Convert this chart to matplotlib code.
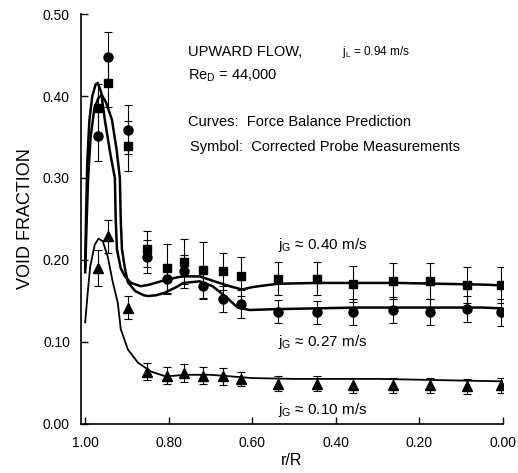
import numpy as np
import matplotlib.pyplot as plt

plt.rcParams['font.family'] = ['Liberation Sans', 'DejaVu Sans']
plt.rcParams['mathtext.fontset'] = 'custom'
plt.rcParams['mathtext.rm'] = 'Liberation Sans'

# measured radial positions (r/R)
r_meas = [0.969, 0.945, 0.898, 0.853, 0.805, 0.764, 0.719, 0.671, 0.628,
          0.539, 0.446, 0.359, 0.263, 0.175, 0.086, 0.004]

# jG = 0.40 m/s (squares)
void_40 = [0.385, 0.416, 0.339, 0.213, 0.190, 0.198, 0.188, 0.186, 0.180,
           0.177, 0.177, 0.171, 0.174, 0.174, 0.169, 0.169]
err_40 = [0.030, 0.030, 0.030, 0.022, 0.030, 0.027, 0.034, 0.022, 0.024,
          0.020, 0.020, 0.022, 0.022, 0.022, 0.022, 0.022]

# jG = 0.27 m/s (circles)
void_27 = [0.351, 0.448, 0.359, 0.204, 0.177, 0.186, 0.168, 0.152, 0.146,
           0.137, 0.136, 0.137, 0.139, 0.137, 0.140, 0.136]
err_27 = [0.030, 0.030, 0.030, 0.020, 0.018, 0.020, 0.016, 0.016, 0.017,
          0.014, 0.014, 0.016, 0.016, 0.016, 0.016, 0.016]

# jG = 0.10 m/s (triangles)
void_10 = [0.190, 0.229, 0.142, 0.064, 0.059, 0.062, 0.059, 0.058, 0.055,
           0.049, 0.049, 0.047, 0.047, 0.047, 0.046, 0.047]
err_10 = [0.022, 0.020, 0.014, 0.010, 0.010, 0.011, 0.010, 0.010, 0.009,
          0.009, 0.009, 0.009, 0.009, 0.009, 0.009, 0.009]

# force balance prediction curves
curve_r_40 = [1.000, 0.998, 0.995, 0.990, 0.983, 0.975, 0.970, 0.962, 0.953,
              0.940, 0.929, 0.927, 0.924, 0.915, 0.905, 0.890, 0.867, 0.846,
              0.826, 0.805, 0.778, 0.766, 0.726, 0.685, 0.654, 0.625, 0.599,
              0.570, 0.539, 0.450, 0.350, 0.250, 0.150, 0.050, 0.000]
curve_40 = [0.190, 0.250, 0.320, 0.370, 0.400, 0.414, 0.416, 0.405, 0.371,
            0.330, 0.300, 0.250, 0.213, 0.190, 0.180, 0.172, 0.168, 0.170,
            0.173, 0.176, 0.179, 0.180, 0.180, 0.173, 0.168, 0.164, 0.167,
            0.169, 0.171, 0.172, 0.172, 0.172, 0.171, 0.170, 0.169]

curve_r_27 = [1.000, 0.997, 0.993, 0.987, 0.978, 0.968, 0.960, 0.950, 0.936,
              0.925, 0.917, 0.915, 0.912, 0.905, 0.898, 0.880, 0.860, 0.850,
              0.830, 0.810, 0.778, 0.766, 0.726, 0.695, 0.661, 0.635, 0.606,
              0.550, 0.450, 0.350, 0.250, 0.150, 0.050, 0.000]
curve_27 = [0.185, 0.240, 0.300, 0.350, 0.385, 0.398, 0.401, 0.392, 0.371,
            0.335, 0.300, 0.250, 0.213, 0.190, 0.173, 0.162, 0.157, 0.156,
            0.157, 0.160, 0.168, 0.172, 0.174, 0.168, 0.154, 0.142, 0.139,
            0.140, 0.141, 0.142, 0.142, 0.142, 0.142, 0.141]

curve_r_10 = [1.000, 0.994, 0.988, 0.977, 0.968, 0.958, 0.946, 0.934, 0.922,
              0.915, 0.898, 0.874, 0.843, 0.807, 0.760, 0.700, 0.650, 0.600,
              0.500, 0.400, 0.300, 0.200, 0.100, 0.000]
curve_10 = [0.124, 0.160, 0.192, 0.219, 0.226, 0.223, 0.204, 0.173, 0.148,
            0.116, 0.091, 0.075, 0.064, 0.058, 0.060, 0.060, 0.058, 0.056,
            0.055, 0.055, 0.055, 0.054, 0.053, 0.052]

xticks = [1.0, 0.8, 0.6, 0.4, 0.2, 0.0]
yticks = [0.0, 0.1, 0.2, 0.3, 0.4, 0.5]

fig = plt.figure(figsize=(5.18, 4.73), dpi=100)
ax = fig.add_axes([0.1564, 0.1036, 0.8147, 0.8668])

ax.plot(curve_r_40, curve_40, color='k', lw=1.8)
ax.plot(curve_r_27, curve_27, color='k', lw=1.8)
ax.plot(curve_r_10, curve_10, color='k', lw=1.3)

eb = dict(color='k', capsize=3, elinewidth=0.8, capthick=0.8, ls='none')
ax.errorbar(r_meas, void_40, yerr=err_40, fmt='s', ms=6, **eb)
ax.errorbar(r_meas, void_27, yerr=err_27, fmt='o', ms=6.5, **eb)
ax.errorbar(r_meas, void_10, yerr=err_10, fmt='^', ms=6.5, **eb)

ax.set_xlim(1.01, 0.0)
ax.set_ylim(0.0, 0.5)
ax.set_xticks(xticks)
ax.set_xticklabels(['%.2f' % t for t in xticks])
ax.set_yticks(yticks)
ax.set_yticklabels(['%.2f' % t for t in yticks])
ax.spines['top'].set_visible(False)
ax.spines['right'].set_visible(False)
ax.spines['left'].set_linewidth(1.2)
ax.spines['bottom'].set_linewidth(1.2)
ax.tick_params(direction='in', length=5, width=1, labelsize=10)
ax.tick_params(axis='y', pad=8)
ax.tick_params(axis='x', pad=9)

ax.set_xlabel('r/R', fontsize=11.5, labelpad=2)
ax.set_ylabel('VOID FRACTION', fontsize=13, labelpad=6)

ax.text(0.2536, 0.907, 'UPWARD FLOW,', transform=ax.transAxes,
        fontsize=10.5, va='center')
ax.text(0.618, 0.907, r'$\mathrm{j_L}$ = 0.94 m/s', transform=ax.transAxes,
        fontsize=8.5, va='center')
ax.text(0.2536, 0.849, r'Re$_\mathrm{D}$ = 44,000', transform=ax.transAxes,
        fontsize=10.5, va='center')
ax.text(0.2536, 0.737, 'Curves:  Force Balance Prediction',
        transform=ax.transAxes, fontsize=10.5, va='center')
ax.text(0.258, 0.676, 'Symbol:  Corrected Probe Measurements',
        transform=ax.transAxes, fontsize=10.5, va='center')

ax.text(0.467, 0.437, r'$\mathrm{j_G}$ ≈ 0.40 m/s', transform=ax.transAxes,
        fontsize=11, va='center')
ax.text(0.467, 0.200, r'$\mathrm{j_G}$ ≈ 0.27 m/s', transform=ax.transAxes,
        fontsize=11, va='center')
ax.text(0.467, 0.034, r'$\mathrm{j_G}$ ≈ 0.10 m/s', transform=ax.transAxes,
        fontsize=11, va='center')

fig.savefig('out.png', dpi=100)
